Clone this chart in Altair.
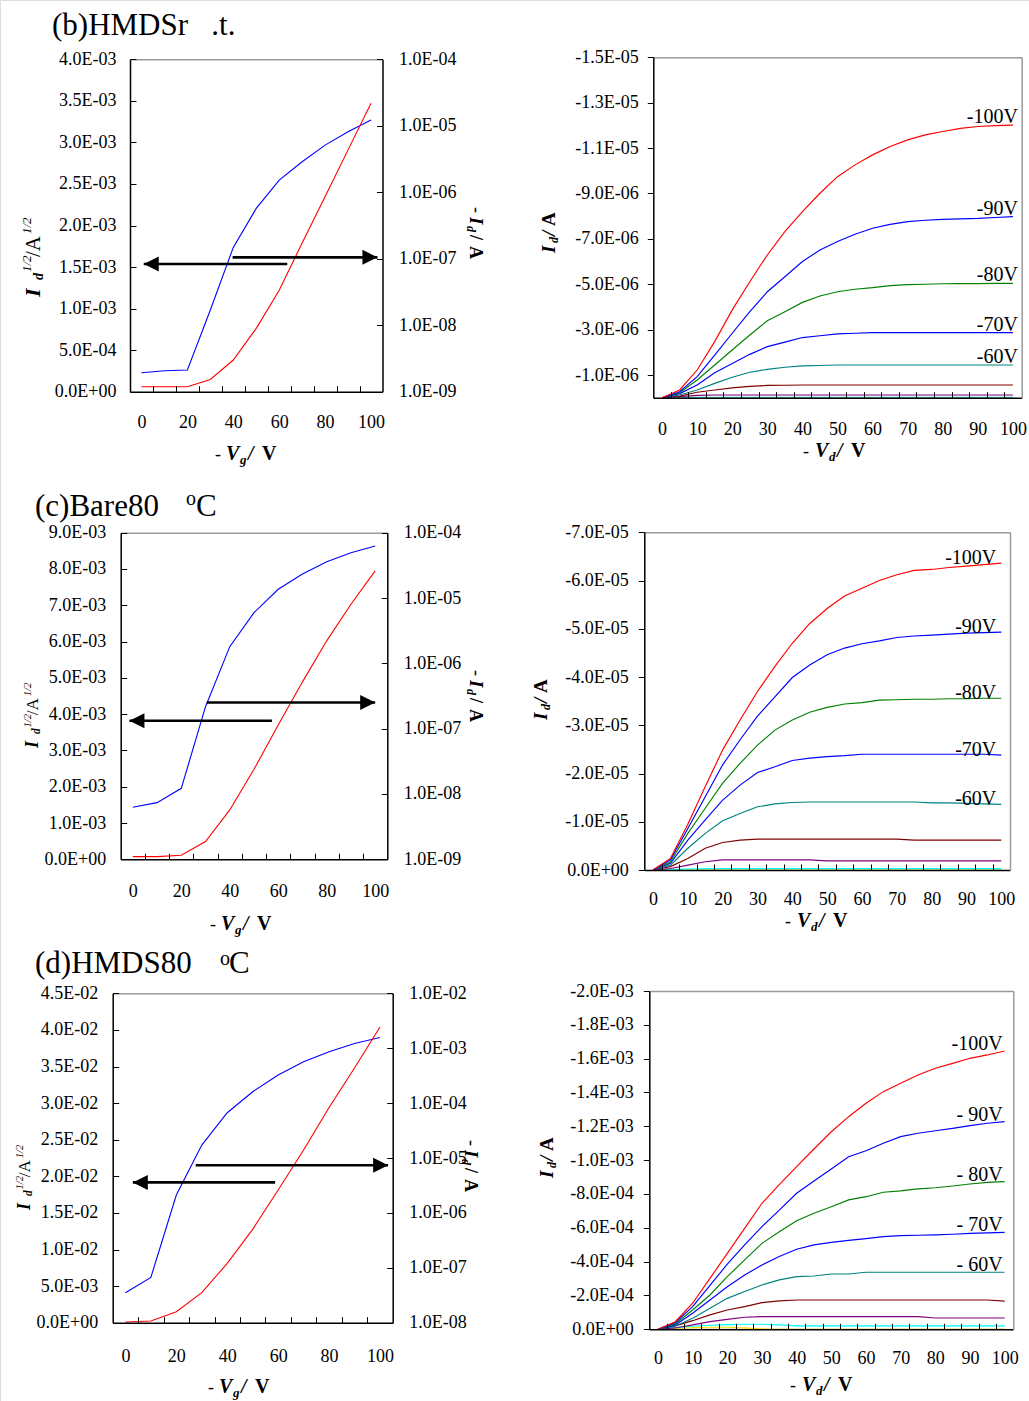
import altair as alt
import pandas as pd

W, H = 1029, 1401
FONT = "Liberation Serif"
RED, BLUE, GRAY = "#FF0000", "#0000FF", "#9a9a9a"
NB = "\u00a0"

# ---------------- data ----------------
VG = [0, 10, 20, 30, 40, 50, 60, 70, 80, 90, 100]
VG_LABELS = [0, 20, 40, 60, 80, 100]
VG_MINOR = [5, 15, 25, 35, 45, 55, 65, 75, 85, 95]
VD = [0, 5, 10, 15, 20, 25, 30, 35, 40, 45, 50, 55, 60, 65, 70, 75, 80, 85, 90, 95, 100]
VD_LABELS = [0, 10, 20, 30, 40, 50, 60, 70, 80, 90, 100]
VD_MINOR = [2.5, 7.5, 12.5, 17.5, 22.5, 27.5, 32.5, 37.5, 42.5, 47.5,
            52.5, 57.5, 62.5, 67.5, 72.5, 77.5, 82.5, 87.5, 92.5, 97.5]

# (b) HMDS r.t. transfer
B_SQRT = [6.0e-5, 6.0e-5, 6.0e-5, 1.48e-4, 3.81e-4, 7.62e-4, 1.22e-3, 1.79e-3, 2.35e-3, 2.91e-3, 3.47e-3]
B_ID = [1.93e-9, 2.07e-9, 2.12e-9, 1.69e-8, 1.48e-7, 5.71e-7, 1.52e-6, 2.88e-6, 5.12e-6, 8.13e-6, 1.22e-5]
B_ARROW_Y = [1.537e-3, 1.617e-3]
B_ARROW_FROM = [63.5, 39.7]
B_ARROW_TO = [1.0, 102.8]
# (c) Bare 80 C transfer
C_SQRT = [7.3e-5, 7.3e-5, 1.1e-4, 4.9e-4, 1.36e-3, 2.48e-3, 3.70e-3, 4.89e-3, 6.02e-3, 7.03e-3, 7.95e-3]
C_ID = [6.25e-9, 7.37e-9, 1.22e-8, 2.17e-7, 1.80e-6, 5.97e-6, 1.36e-5, 2.33e-5, 3.60e-5, 4.94e-5, 6.25e-5]
C_ARROW_Y = [3.82e-3, 4.32e-3]
C_ARROW_FROM = [57.4, 30.5]
C_ARROW_TO = [-1.4, 100.0]
# (d) HMDS 80 C transfer
D_SQRT = [9.0e-5, 2.3e-4, 1.50e-3, 4.10e-3, 8.11e-3, 1.275e-2, 1.812e-2, 2.36e-2, 2.94e-2, 3.48e-2, 4.04e-2]
D_ID = [3.52e-8, 6.69e-8, 2.12e-6, 1.72e-5, 6.68e-5, 1.61e-4, 3.25e-4, 5.68e-4, 8.63e-4, 1.22e-3, 1.57e-3]
D_ARROW_Y = [1.917e-2, 2.15e-2]
D_ARROW_FROM = [58.8, 27.6]
D_ARROW_TO = [2.9, 103.2]

# output curves, magnitudes (b: 1e-6 A, c: 1e-5 A, d: 1e-4 A)
SERIES = ["-100V", "-90V", "-80V", "-70V", "-60V", "-50V", "-40V", "-30V", "-20V", "-10V"]
OB_100 = [0, 0.34, 1.22, 2.47, 3.87, 5.11, 6.29, 7.32, 8.20, 9.01, 9.74, 10.26, 10.70, 11.07, 11.36, 11.58, 11.73, 11.87, 11.95, 11.99, 12.01]
OB_90 = [0, 0.26, 0.93, 1.88, 2.84, 3.79, 4.67, 5.33, 6.00, 6.51, 6.88, 7.20, 7.47, 7.64, 7.76, 7.82, 7.86, 7.88, 7.90, 7.94, 7.98]
OB_80 = [0, 0.22, 0.78, 1.44, 2.10, 2.76, 3.39, 3.79, 4.20, 4.48, 4.67, 4.78, 4.85, 4.94, 4.98, 5.00, 5.02, 5.03, 5.03, 5.04, 5.04]
OB_70 = [0, 0.18, 0.56, 1.10, 1.51, 1.91, 2.25, 2.45, 2.65, 2.73, 2.81, 2.84, 2.87, 2.87, 2.87, 2.87, 2.87, 2.87, 2.87, 2.87, 2.87]
OB_60 = [0, 0.12, 0.34, 0.63, 0.90, 1.12, 1.25, 1.34, 1.40, 1.42, 1.44, 1.44, 1.44, 1.44, 1.44, 1.44, 1.44, 1.44, 1.44, 1.44, 1.44]
OB_50 = [0, 0.07, 0.24, 0.34, 0.43, 0.50, 0.54, 0.55, 0.56, 0.56, 0.56, 0.56, 0.56, 0.56, 0.56, 0.56, 0.56, 0.56, 0.56, 0.56, 0.56]
OB_40 = [0, 0.05, 0.10, 0.12, 0.12, 0.12, 0.12, 0.12, 0.12, 0.12, 0.12, 0.12, 0.12, 0.12, 0.12, 0.12, 0.12, 0.12, 0.12, 0.12, 0.12]
OB_30 = [0, 0.01, 0.02, 0.02, 0.02, 0.02, 0.02, 0.02, 0.02, 0.02, 0.02, 0.02, 0.02, 0.02, 0.02, 0.02, 0.02, 0.02, 0.02, 0.02, 0.02]

OC_100 = [0, 0.24, 0.95, 1.73, 2.49, 3.11, 3.70, 4.22, 4.70, 5.11, 5.42, 5.68, 5.84, 6.00, 6.12, 6.21, 6.23, 6.27, 6.30, 6.33, 6.36]
OC_90 = [0, 0.21, 0.86, 1.52, 2.18, 2.70, 3.19, 3.59, 3.99, 4.25, 4.46, 4.60, 4.69, 4.75, 4.82, 4.85, 4.87, 4.89, 4.91, 4.92, 4.93]
OC_80 = [0, 0.17, 0.76, 1.28, 1.80, 2.21, 2.59, 2.90, 3.11, 3.27, 3.37, 3.44, 3.47, 3.52, 3.53, 3.54, 3.54, 3.55, 3.55, 3.56, 3.56]
OC_70 = [0, 0.14, 0.62, 1.04, 1.45, 1.76, 2.02, 2.14, 2.27, 2.32, 2.35, 2.37, 2.40, 2.40, 2.40, 2.40, 2.40, 2.40, 2.40, 2.40, 2.38]
OC_60 = [0, 0.10, 0.45, 0.76, 1.02, 1.17, 1.31, 1.37, 1.40, 1.41, 1.41, 1.41, 1.41, 1.41, 1.41, 1.41, 1.39, 1.39, 1.38, 1.37, 1.36]
OC_50 = [0, 0.07, 0.24, 0.45, 0.57, 0.62, 0.64, 0.64, 0.64, 0.64, 0.64, 0.64, 0.64, 0.64, 0.64, 0.62, 0.62, 0.62, 0.62, 0.62, 0.62]
OC_40 = [0, 0.03, 0.10, 0.17, 0.21, 0.21, 0.21, 0.21, 0.21, 0.21, 0.19, 0.19, 0.19, 0.19, 0.19, 0.19, 0.19, 0.19, 0.19, 0.19, 0.19]
OC_30 = [0, 0.01, 0.02, 0.03, 0.03, 0.03, 0.03, 0.03, 0.03, 0.03, 0.03, 0.03, 0.03, 0.03, 0.03, 0.03, 0.03, 0.03, 0.03, 0.03, 0.03]
OC_20 = [0, 0, 0, 0, 0, 0, 0, 0, 0, 0, 0, 0, 0, 0, 0, 0, 0, 0, 0, 0, 0]

OD_100 = [0, 0.45, 1.54, 3.01, 4.49, 5.97, 7.45, 8.55, 9.62, 10.66, 11.68, 12.57, 13.36, 14.05, 14.54, 15.03, 15.43, 15.72, 16.02, 16.22, 16.45]
OD_90 = [0, 0.39, 1.34, 2.60, 3.85, 4.99, 6.07, 7.05, 8.04, 8.77, 9.48, 10.20, 10.56, 11.00, 11.39, 11.59, 11.74, 11.88, 12.04, 12.18, 12.28]
OD_80 = [0, 0.32, 1.14, 2.03, 3.11, 4.10, 5.08, 5.77, 6.42, 6.86, 7.25, 7.65, 7.84, 8.10, 8.18, 8.30, 8.37, 8.47, 8.59, 8.69, 8.73]
OD_70 = [0, 0.26, 0.95, 1.73, 2.52, 3.21, 3.80, 4.30, 4.73, 4.99, 5.14, 5.26, 5.36, 5.48, 5.54, 5.56, 5.58, 5.62, 5.67, 5.70, 5.73]
OD_60 = [0, 0.20, 0.65, 1.24, 1.83, 2.23, 2.62, 2.92, 3.11, 3.15, 3.27, 3.27, 3.37, 3.37, 3.37, 3.37, 3.37, 3.37, 3.37, 3.37, 3.37]
OD_50 = [0, 0.20, 0.51, 0.85, 1.14, 1.34, 1.58, 1.68, 1.73, 1.73, 1.73, 1.73, 1.73, 1.73, 1.73, 1.73, 1.73, 1.73, 1.73, 1.73, 1.67]
OD_40 = [0, 0.08, 0.26, 0.45, 0.59, 0.71, 0.75, 0.75, 0.75, 0.75, 0.75, 0.75, 0.75, 0.75, 0.75, 0.75, 0.67, 0.67, 0.67, 0.67, 0.67]
OD_30 = [0, 0.10, 0.18, 0.24, 0.28, 0.30, 0.30, 0.26, 0.20, 0.20, 0.20, 0.20, 0.20, 0.20, 0.20, 0.20, 0.20, 0.20, 0.20, 0.20, 0.20]
OD_20 = [0, 0.05, 0.10, 0.12, 0.12, 0.08, 0.02, 0, 0, 0, 0, 0, 0, 0, 0, 0, 0, 0, 0, 0, 0]
OD_10 = [0, 0, 0, 0, 0, 0, 0, 0, 0, 0, 0, 0, 0, 0, 0, 0, 0, 0, 0, 0, 0]

GATE_LABELS = ["-100V", "-90V", "-80V", "-70V", "-60V"]
GATE_LABELS_D = ["-100V", "-" + NB + "90V", "-" + NB + "80V", "-" + NB + "70V", "-" + NB + "60V"]

# tick values / labels
TB_L_V = [0, 0.0005, 0.001, 0.0015, 0.002, 0.0025, 0.003, 0.0035, 0.004]
TB_L_T = ["0.0E+00", "5.0E-04", "1.0E-03", "1.5E-03", "2.0E-03", "2.5E-03", "3.0E-03", "3.5E-03", "4.0E-03"]
TB_R_V = [1e-9, 1e-8, 1e-7, 1e-6, 1e-5, 1e-4]
TB_R_T = ["1.0E-09", "1.0E-08", "1.0E-07", "1.0E-06", "1.0E-05", "1.0E-04"]
TC_L_V = [0, 0.001, 0.002, 0.003, 0.004, 0.005, 0.006, 0.007, 0.008, 0.009]
TC_L_T = ["0.0E+00", "1.0E-03", "2.0E-03", "3.0E-03", "4.0E-03", "5.0E-03", "6.0E-03", "7.0E-03", "8.0E-03", "9.0E-03"]
TD_L_V = [0, 0.005, 0.01, 0.015, 0.02, 0.025, 0.03, 0.035, 0.04, 0.045]
TD_L_T = ["0.0E+00", "5.0E-03", "1.0E-02", "1.5E-02", "2.0E-02", "2.5E-02", "3.0E-02", "3.5E-02", "4.0E-02", "4.5E-02"]
TD_R_V = [1e-8, 1e-7, 1e-6, 1e-5, 1e-4, 1e-3, 1e-2]
TD_R_T = ["1.0E-08", "1.0E-07", "1.0E-06", "1.0E-05", "1.0E-04", "1.0E-03", "1.0E-02"]
OB_V = [-1.5e-5, -1.3e-5, -1.1e-5, -9e-6, -7e-6, -5e-6, -3e-6, -1e-6]
OB_T = ["-1.5E-05", "-1.3E-05", "-1.1E-05", "-9.0E-06", "-7.0E-06", "-5.0E-06", "-3.0E-06", "-1.0E-06"]
OC_V = [-7e-5, -6e-5, -5e-5, -4e-5, -3e-5, -2e-5, -1e-5, 0]
OC_T = ["-7.0E-05", "-6.0E-05", "-5.0E-05", "-4.0E-05", "-3.0E-05", "-2.0E-05", "-1.0E-05", "0.0E+00"]
OD_V = [-2e-3, -1.8e-3, -1.6e-3, -1.4e-3, -1.2e-3, -1e-3, -8e-4, -6e-4, -4e-4, -2e-4, 0]
OD_T = ["-2.0E-03", "-1.8E-03", "-1.6E-03", "-1.4E-03", "-1.2E-03", "-1.0E-03", "-8.0E-04",
        "-6.0E-04", "-4.0E-04", "-2.0E-04", "0.0E+00"]

# ---------------- layout (pixels) ----------------
G = {
    "tb": dict(x0=130, x1=382.5, y0=59.3, y1=391.7),
    "ob": dict(x0=653.3, x1=1021.7, y0=57.3, y1=397.7),
    "tc": dict(x0=120.7, x1=387.3, y0=532.7, y1=859.3),
    "oc": dict(x0=644.3, x1=1010, y0=532.3, y1=870),
    "td": dict(x0=112.7, x1=392.7, y0=993.3, y1=1322.7),
    "od": dict(x0=649.3, x1=1013.3, y0=991, y1=1329.3),
}


def lookup_expr(values, labels):
    vals = ",".join(repr(float(v)) for v in values)
    labs = ",".join("'" + s + "'" for s in labels)
    return "[" + labs + "][indexof([" + vals + "], datum.value)]"


def axis(orient, pos, values, labels=None, show=False, ticks=False, tick_size=6,
         domain=True, domain_color="black", pad=10):
    if orient == "left":
        offset = -pos
    elif orient == "right":
        offset = pos - W
    elif orient == "top":
        offset = -pos
    else:
        offset = pos - H
    kw = dict(orient=orient, offset=offset, values=values, title=None, grid=False,
              zindex=1, domain=domain, ticks=ticks, labels=(labels is not None) or show)
    if domain:
        kw.update(domainColor=domain_color, domainWidth=1.5)
    if ticks:
        kw.update(tickSize=tick_size, tickColor="black", tickWidth=1)
    else:
        kw.update(tickSize=0)
    if (labels is not None) or show:
        kw.update(labelFont=FONT, labelFontSize=18, labelColor="black", labelPadding=pad,
                  labelOverlap=False, labelFlush=False, labelBound=False)
        if labels is not None:
            kw.update(labelExpr=lookup_expr(values, labels))
    return alt.Axis(**kw)


def carrier(channel, values, scale, ax):
    ch = alt.Chart(pd.DataFrame({"v": values})).mark_point(opacity=0)
    if channel == "x":
        return ch.encode(x=alt.X("v:Q", scale=scale, axis=ax))
    return ch.encode(y=alt.Y("v:Q", scale=scale, axis=ax))


RIGHT_HEAD = "M-1,-1L1,0L-1,1Z"
LEFT_HEAD = "M1,-1L-1,0L1,1Z"


def transfer(g, ldom, lv, lt, rdom, rv, rt, sq, idv, ay, afrom, ato, lpad, bpad):
    xsc = alt.Scale(domain=[-5, 105], range=[g["x0"], g["x1"]], nice=False, zero=False)
    ysl = alt.Scale(domain=ldom, range=[g["y1"], g["y0"]], nice=False, zero=False)
    ysr = alt.Scale(type="log", domain=rdom, range=[g["y1"], g["y0"]], nice=False)
    df = pd.DataFrame({"vg": VG, "sq": sq, "id": idv})
    out = [
        alt.Chart(df).mark_line(color=BLUE, strokeWidth=1.1).encode(
            x=alt.X("vg:Q", scale=xsc, axis=None),
            y=alt.Y("id:Q", scale=ysr, axis=axis("right", g["x1"], rv, rt, pad=16))),
        alt.Chart(df).mark_line(color=RED, strokeWidth=1.1).encode(
            x=alt.X("vg:Q", scale=xsc, axis=axis("bottom", g["y1"], VG_LABELS, show=True, pad=bpad)),
            y=alt.Y("sq:Q", scale=ysl, axis=axis("left", g["x0"], lv, lt, pad=lpad))),
        carrier("y", lv, ysl, axis("right", g["x0"], lv, ticks=True, domain=False)),
        carrier("y", rv, ysr, axis("left", g["x1"], rv, ticks=True, domain=False)),
        carrier("x", VG_MINOR, xsc, axis("top", g["y1"], VG_MINOR, ticks=True, domain=False)),
        carrier("x", VG_MINOR, xsc, axis("top", g["y0"], VG_MINOR, domain=True, domain_color=GRAY)),
    ]
    adf = pd.DataFrame({"y": ay, "xa": afrom, "xb": ato})
    out.append(alt.Chart(adf).mark_rule(color="black", strokeWidth=2.6).encode(
        x=alt.X("xa:Q", scale=xsc, axis=None), x2="xb:Q",
        y=alt.Y("y:Q", scale=ysl, axis=None)))
    out.append(alt.Chart(adf).transform_filter("datum.xb > datum.xa").mark_point(
        shape=RIGHT_HEAD, filled=True, size=225, color="black", opacity=1, xOffset=-7.5).encode(
        x=alt.X("xb:Q", scale=xsc, axis=None), y=alt.Y("y:Q", scale=ysl, axis=None)))
    out.append(alt.Chart(adf).transform_filter("datum.xb < datum.xa").mark_point(
        shape=LEFT_HEAD, filled=True, size=225, color="black", opacity=1, xOffset=7.5).encode(
        x=alt.X("xb:Q", scale=xsc, axis=None), y=alt.Y("y:Q", scale=ysl, axis=None)))
    return out


def output(g, ydom, yv, yt, curves, names, colors, unit, glabels, ldx, ldy, lpad, bpad):
    xsc = alt.Scale(domain=[-2.5, 102.5], range=[g["x0"], g["x1"]], nice=False, zero=False)
    ysc = alt.Scale(domain=ydom, range=[g["y1"], g["y0"]], nice=False, zero=False)
    rows = []
    for name, vals in zip(names, curves):
        for v, val in zip(VD, vals):
            rows.append({"vd": v, "id": -val * unit, "s": name})
    df = pd.DataFrame(rows)
    out = []
    for name, col in reversed(list(zip(names, colors))):
        out.append(alt.Chart(df).transform_filter(alt.datum.s == name).mark_line(
            color=col, strokeWidth=1.15).encode(
            x=alt.X("vd:Q", scale=xsc, axis=None),
            y=alt.Y("id:Q", scale=ysc, axis=None)))
    ldf = pd.DataFrame({"vd": [VD[-1]] * len(glabels),
                        "id": [-curves[i][-1] * unit for i in range(len(glabels))],
                        "lab": glabels})
    out.append(alt.Chart(ldf).mark_text(font=FONT, fontSize=20, align="right", baseline="alphabetic",
                                        dx=ldx, dy=ldy, color="black").encode(
        x=alt.X("vd:Q", scale=xsc, axis=None), y=alt.Y("id:Q", scale=ysc, axis=None), text="lab:N"))
    out += [
        carrier("y", yv, ysc, axis("left", g["x0"], yv, yt, ticks=True, pad=lpad)),
        carrier("x", VD_LABELS, xsc, axis("bottom", g["y1"], VD_LABELS, show=True, pad=bpad)),
        carrier("x", VD_MINOR, xsc, axis("top", g["y1"], VD_MINOR, ticks=True, domain=False)),
        carrier("x", VD_MINOR, xsc, axis("top", g["y0"], VD_MINOR, domain=True, domain_color=GRAY)),
        carrier("y", yv, ysc, axis("right", g["x1"], yv, domain=True, domain_color=GRAY)),
    ]
    return out


layers = []
layers += transfer(G["tb"], [0, 0.004], TB_L_V, TB_L_T, [1e-9, 1e-4], TB_R_V, TB_R_T,
                   B_SQRT, B_ID, B_ARROW_Y, B_ARROW_FROM, B_ARROW_TO, 14, 22)
layers += transfer(G["tc"], [0, 0.009], TC_L_V, TC_L_T, [1e-9, 1e-4], TB_R_V, TB_R_T,
                   C_SQRT, C_ID, C_ARROW_Y, C_ARROW_FROM, C_ARROW_TO, 15, 23)
layers += transfer(G["td"], [0, 0.045], TD_L_V, TD_L_T, [1e-8, 1e-2], TD_R_V, TD_R_T,
                   D_SQRT, D_ID, D_ARROW_Y, D_ARROW_FROM, D_ARROW_TO, 15, 25)

COL_B = [RED, BLUE, "#008000", BLUE, "#008080", "#800000", "#800080", "#33CCCC"]
COL_C = [RED, BLUE, "#008000", BLUE, "#008080", "#800000", "#800080", "#00FFFF", "#FFE000"]
COL_D = [RED, BLUE, "#008000", BLUE, "#008080", "#800000", "#800080", "#00FFFF", "#FFE000", "#D0905A"]

layers += output(G["ob"], [0, -1.5e-5], OB_V, OB_T,
                 [OB_100, OB_90, OB_80, OB_70, OB_60, OB_50, OB_40, OB_30], SERIES[:8], COL_B,
                 1e-6, GATE_LABELS, 5, -2, 9, 23)
layers += output(G["oc"], [0, -7e-5], OC_V, OC_T,
                 [OC_100, OC_90, OC_80, OC_70, OC_60, OC_50, OC_40, OC_30, OC_20], SERIES[:9], COL_C,
                 1e-5, GATE_LABELS, -5, 1, 10, 20)
layers += output(G["od"], [0, -2e-3], OD_V, OD_T,
                 [OD_100, OD_90, OD_80, OD_70, OD_60, OD_50, OD_40, OD_30, OD_20, OD_10], SERIES, COL_D,
                 1e-4, GATE_LABELS_D, -2, -1, 10, 20)

# ---------------- text pieces (titles) ----------------
pieces = []


def add(style, text, x, y, size, angle=0):
    pieces.append(dict(st=style, t=text, px=x, py=y, fs=size, ang=angle))


def ytitle_left(x, y, s):
    add("bi", "I", x, y, 22 * s, 270)
    add("bi", "d", x + 3 * s, y - 17 * s, 14 * s, 270)
    add("i", "1/2", x - 9 * s, y - 25 * s, 13 * s, 270)
    add("r", "/A", x, y - 40 * s, 21 * s, 270)
    add("i", "1/2", x - 9 * s, y - 63 * s, 13 * s, 270)


def ytitle_right(x, y):
    add("r", "-", x + 1, y, 18, 90)
    add("bi", "I", x, y + 10, 19, 90)
    add("bi", "d", x - 3, y + 19, 12, 90)
    add("b", "/", x, y + 28, 18, 90)
    add("b", "A", x, y + 39, 18, 90)


def xtitle(x, y, sub, gap=0):
    add("r", "-", x, y, 18)
    add("bi", "V", x + 11 + gap, y, 20)
    add("bi", sub, x + 25 + gap, y + 4, 13)
    add("bi", "/", x + 33 + gap, y, 20)
    add("b", "V", x + 47 + gap, y, 20)


def ytitle_out(x, y):
    add("bi", "I", x, y, 19, 270)
    add("bi", "d", x + 3, y - 10, 12, 270)
    add("bi", "/", x, y - 17, 19, 270)
    add("b", "A", x, y - 27, 19, 270)


add("r", "(b)HMDSr" + NB * 3 + ".t.", 52, 35, 31)
add("r", "(c)Bare80", 35, 516, 31)
add("r", "o", 186, 505, 20)
add("r", "C", 196, 516, 31)
add("r", "(d)HMDS80", 35, 973, 31)
add("r", "o", 220, 965, 20)
add("r", "C", 229, 973, 31)

ytitle_left(40, 297, 1.0)
ytitle_left(38, 748, 0.82)
ytitle_left(30, 1210, 0.82)
ytitle_right(470, 207)
ytitle_right(470, 670)
ytitle_right(465, 1140)
xtitle(215, 460, "g")
xtitle(210, 930, "g")
xtitle(208, 1393, "g")
xtitle(803, 457, "d", 1)
xtitle(785, 927, "d", 1)
xtitle(790, 1391, "d", 1)
ytitle_out(555, 253)
ytitle_out(547, 720)
ytitle_out(553, 1178)

pdf = pd.DataFrame(pieces)
STYLES = {"r": {}, "b": {"fontWeight": "bold"}, "i": {"fontStyle": "italic"},
          "bi": {"fontWeight": "bold", "fontStyle": "italic"}}
for st, props in STYLES.items():
    sub = pdf[pdf.st == st]
    if len(sub) == 0:
        continue
    layers.append(alt.Chart(sub).mark_text(font=FONT, align="left", baseline="alphabetic",
                                           color="black", **props).encode(
        x=alt.X("px:Q", scale=None, axis=None),
        y=alt.Y("py:Q", scale=None, axis=None),
        text="t:N",
        size=alt.Size("fs:Q", scale=None, legend=None),
        angle=alt.Angle("ang:Q", scale=None, legend=None)))

chart = alt.layer(*layers).resolve_scale(
    x="independent", y="independent", color="independent", size="independent", angle="independent"
).properties(
    width=W, height=H, padding=0, autosize=alt.AutoSizeParams(type="none")
).configure_view(stroke=None).configure(background="white")

chart.save("out.html", embed_options={"renderer": "svg", "actions": False})
